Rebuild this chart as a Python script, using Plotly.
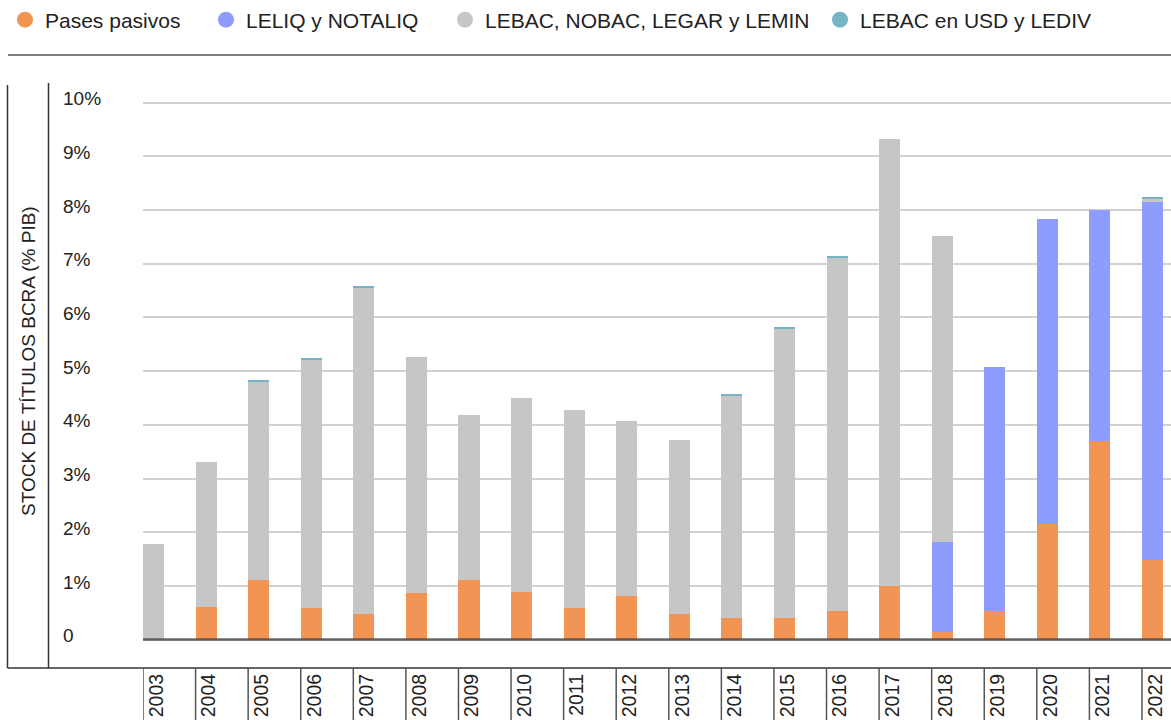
import plotly.graph_objects as go

years = [str(y) for y in range(2003, 2023)]
pases = [0, 0.61, 1.11, 0.59, 0.48, 0.87, 1.11, 0.89, 0.59, 0.81, 0.48, 0.40, 0.40, 0.53, 1.00, 0.14, 0.53, 2.15, 3.70, 1.48]
leliq = [0, 0, 0, 0, 0, 0, 0, 0, 0, 0, 0, 0, 0, 0, 0, 1.68, 4.55, 5.68, 4.30, 6.67]
lebac = [1.78, 2.70, 3.69, 4.62, 6.08, 4.39, 3.07, 3.61, 3.69, 3.26, 3.24, 4.15, 5.40, 6.58, 8.32, 5.70, 0, 0, 0, 0.05]
lebac_usd = [0, 0, 0.04, 0.04, 0.03, 0, 0, 0, 0, 0, 0, 0.03, 0.015, 0.015, 0, 0, 0, 0, 0, 0.04]

names = ["Pases pasivos", "LELIQ y NOTALIQ", "LEBAC, NOBAC, LEGAR y LEMIN", "LEBAC en USD y LEDIV"]
colors = ["#F29454", "#8F9CFF", "#C6C6C6", "#74B4C4"]
series = [pases, leliq, lebac, lebac_usd]

y_ticks = list(range(0, 11))
y_tick_text = ["0"] + [f"{v}%" for v in range(1, 11)]

FONT = "Liberation Sans, Arial, sans-serif"
W, H = 1171, 720
ML, MT, MB, MR = 55, 83, 52, 0
PW = W - ML - MR
PH = H - MT - MB

def px_x(p):
    return (p - ML) / PW

def px_y(p):
    return (H - MB - p) / PH

fig = go.Figure()
for name, col, vals in zip(names, colors, series):
    fig.add_trace(go.Bar(x=years, y=vals, name=name, marker=dict(color=col, line=dict(width=0)),
                         width=0.4, showlegend=False, hoverinfo="x+y+name"))

legend_x = [5, 206, 445, 820]
legend_keys = ["legend", "legend2", "legend3", "legend4"]
for name, col, key in zip(names, colors, legend_keys):
    fig.add_trace(go.Scatter(x=[None], y=[None], mode="markers", name=name,
                             marker=dict(color=col, size=16, symbol="circle"),
                             legend=key, showlegend=True))

layout_legends = {}
for key, lx in zip(legend_keys, legend_x):
    layout_legends[key] = dict(xref="container", yref="container", x=lx / W, y=1 - 20 / H,
                               xanchor="left", yanchor="middle", orientation="h",
                               font=dict(family=FONT, size=21, color="#222"),
                               bgcolor="rgba(0,0,0,0)", borderwidth=0)

shapes = []
line_col = "#333333"
# top separator line
shapes.append(dict(type="line", xref="paper", yref="paper", x0=px_x(8), x1=1, y0=px_y(55), y1=px_y(55),
                   line=dict(color="#555555", width=1.5)))
# left frame lines
shapes.append(dict(type="line", xref="paper", yref="paper", x0=px_x(7.5), x1=px_x(7.5), y0=0, y1=px_y(85),
                   line=dict(color=line_col, width=1.5)))
shapes.append(dict(type="line", xref="paper", yref="paper", x0=px_x(48.5), x1=px_x(48.5), y0=0, y1=px_y(83),
                   line=dict(color=line_col, width=1.5)))
# bottom line
shapes.append(dict(type="line", xref="paper", yref="paper", x0=px_x(7.5), x1=1, y0=0, y1=0,
                   line=dict(color=line_col, width=1.5)))
# zero baseline drawn above the bars
shapes.append(dict(type="line", xref="x domain", yref="y", x0=0, x1=1, y0=0, y1=0, layer="above",
                   line=dict(color="rgba(70,70,70,0.8)", width=2.5)))
# category separators in label band
for i in range(len(years)):
    shapes.append(dict(type="line", xref="x", yref="paper", x0=i - 0.2, x1=i - 0.2, y0=0, y1=px_y(H + 5),
                       line=dict(color="#555555", width=1.5)))

fig.update_layout(
    width=W, height=H,
    margin=dict(l=ML, r=MR, t=MT, b=MB, autoexpand=False),
    barmode="stack",
    bargap=0,
    plot_bgcolor="white", paper_bgcolor="white",
    font=dict(family=FONT, color="#222"),
    shapes=shapes,
    showlegend=True,
    **layout_legends,
    annotations=[dict(text="STOCK DE TÍTULOS BCRA (% PIB)", xref="paper", yref="paper",
                      x=px_x(28), y=px_y(361), textangle=-90, showarrow=False,
                      font=dict(family=FONT, size=19, color="#222"), xanchor="center", yanchor="middle")],
)

fig.update_xaxes(
    domain=[px_x(143), 1], range=[-0.2, 19.352], type="category",
    tickangle=-90, showgrid=False, zeroline=False, showline=False, ticks="",
    tickfont=dict(family=FONT, size=19.5, color="#222"), automargin=False,
    ticklabelshift=3, ticklabelstandoff=1,
)
fig.update_yaxes(
    range=[-0.529, 10.365], anchor="free", position=0, side="left",
    tickvals=y_ticks, ticktext=y_tick_text, ticklabelposition="inside",
    ticklabelstandoff=4, ticklabelshift=-4,
    tickfont=dict(family=FONT, size=19, color="#222"),
    showgrid=True, gridcolor="#D2D2D2", gridwidth=1.5,
    zeroline=False,
    showline=False, ticks="", automargin=False,
)

fig.write_html("out.html", config={"displayModeBar": False},
               post_script="document.body.style.margin='0';")
